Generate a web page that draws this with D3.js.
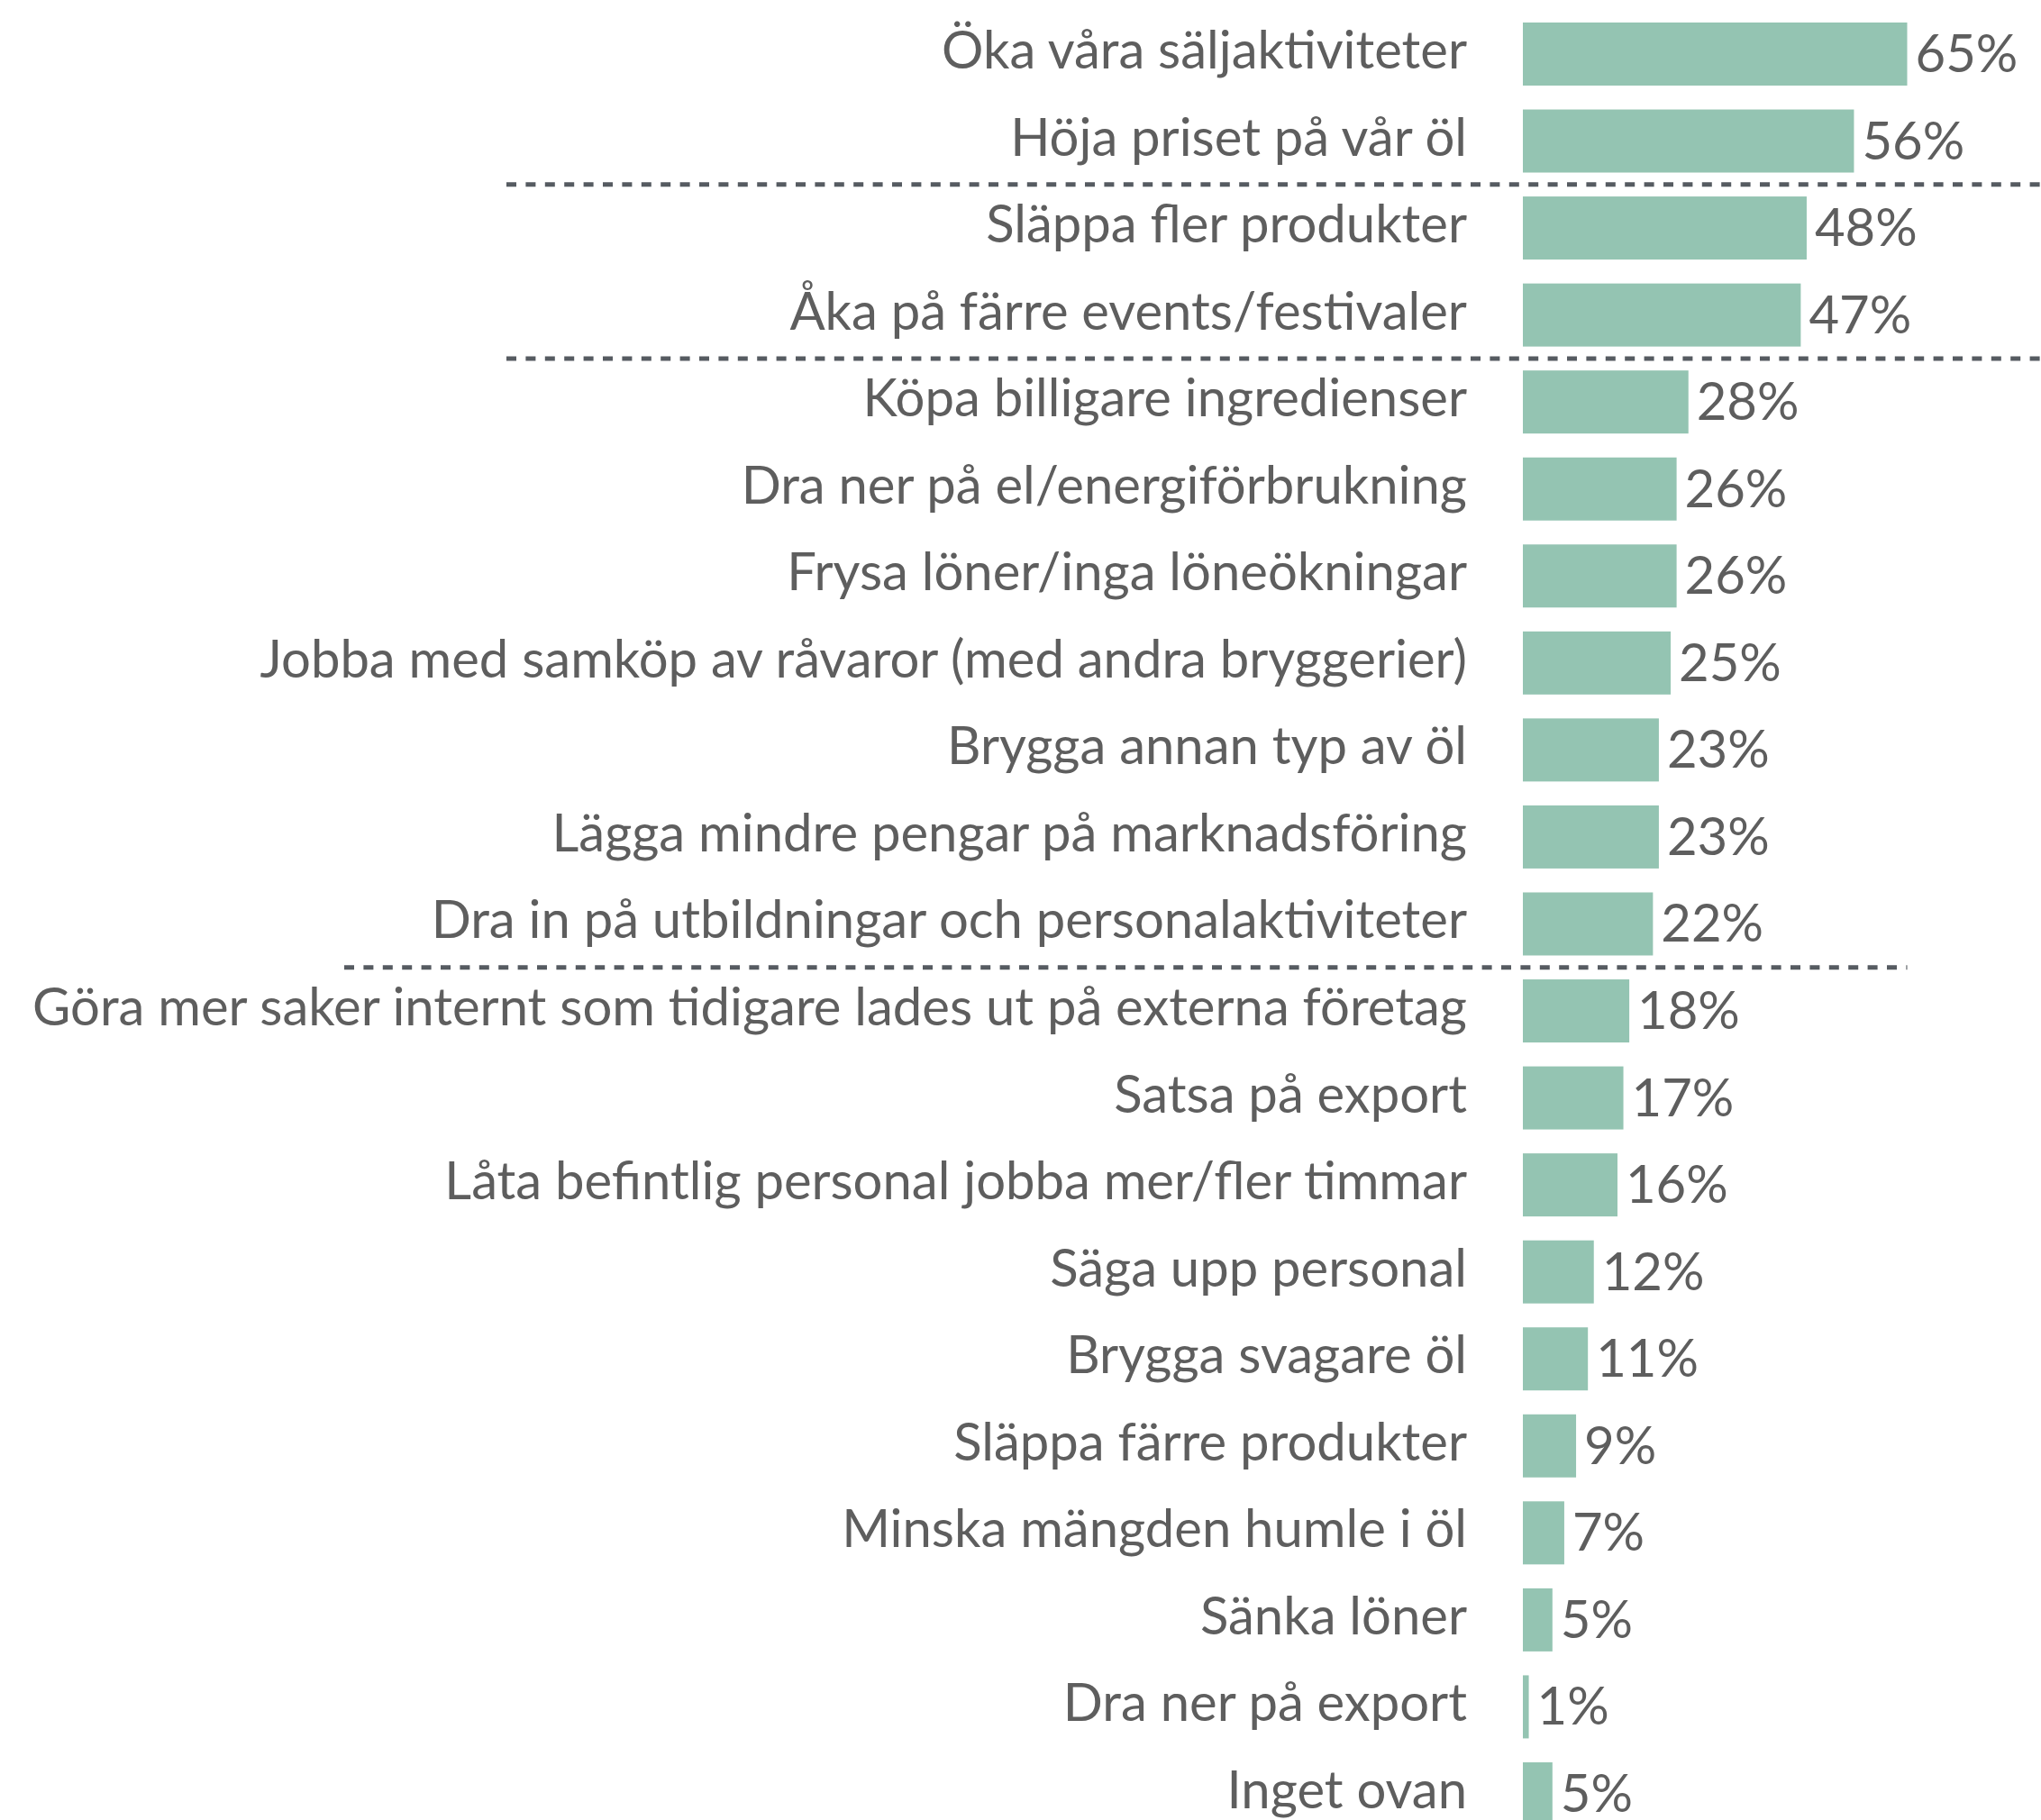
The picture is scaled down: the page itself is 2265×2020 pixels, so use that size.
<!DOCTYPE html>
<html>
<head>
<meta charset="utf-8">
<script src="https://cdn.jsdelivr.net/npm/d3@7"></script>
<style>
  body { margin: 0; background: #fff; }
  svg text { font-family: Lato, "Open Sans", sans-serif; fill: #5e5e5e; }
</style>
</head>
<body>
<div id="chart"></div>
<script>
var categories = [
  "Öka våra säljaktiviteter",
  "Höja priset på vår öl",
  "Släppa fler produkter",
  "Åka på färre events/festivaler",
  "Köpa billigare ingredienser",
  "Dra ner på el/energiförbrukning",
  "Frysa löner/inga löneökningar",
  "Jobba med samköp av råvaror (med andra bryggerier)",
  "Brygga annan typ av öl",
  "Lägga mindre pengar på marknadsföring",
  "Dra in på utbildningar och personalaktiviteter",
  "Göra mer saker internt som tidigare lades ut på externa företag",
  "Satsa på export",
  "Låta befintlig personal jobba mer/fler timmar",
  "Säga upp personal",
  "Brygga svagare öl",
  "Släppa färre produkter",
  "Minska mängden humle i öl",
  "Sänka löner",
  "Dra ner på export",
  "Inget ovan"
];
var values = [65, 56, 48, 47, 28, 26, 26, 25, 23, 23, 22, 18, 17, 16, 12, 11, 9, 7, 5, 1, 5];
// dashed dividers go below these rows
var dividerAfter = [
  "Höja priset på vår öl",
  "Åka på färre events/festivaler",
  "Dra in på utbildningar och personalaktiviteter"
];

var width = 2265, height = 2020;
var barLeft = 1690;

var svg = d3.select("#chart").append("svg")
  .attr("width", width).attr("height", height);

var xScale = d3.scaleLinear()
  .domain([0, 65])
  .range([barLeft, 2116.5]);

var yScale = d3.scaleBand()
  .domain(categories)
  .range([11.7, 11.7 + 96.55 * categories.length])
  .paddingInner(0.275)
  .paddingOuter(0.1375);

var data = categories.map(function (c, i) {
  return { cat: c, val: values[i] };
});

svg.selectAll("rect.bar").data(data).enter()
  .append("rect").attr("class", "bar")
  .attr("x", xScale(0))
  .attr("y", function (d) { return yScale(d.cat); })
  .attr("width", function (d) { return xScale(d.val) - xScale(0); })
  .attr("height", yScale.bandwidth())
  .attr("fill", "#94c4b2");

svg.selectAll("text.cat").data(data).enter()
  .append("text").attr("class", "cat")
  .attr("x", 1628)
  .attr("y", function (d) { return yScale(d.cat) + yScale.bandwidth() / 2 + 16; })
  .attr("text-anchor", "end")
  .style("font-size", "58px")
  .text(function (d) { return d.cat; });

svg.selectAll("text.val").data(data).enter()
  .append("text").attr("class", "val")
  .attr("x", function (d) { return xScale(d.val) + 9; })
  .attr("y", function (d) { return yScale(d.cat) + yScale.bandwidth() / 2 + 20; })
  .style("font-size", "58px")
  .text(function (d) { return d.val + "%"; });

// dividers: first two run to the page edge, last one stops at the longest bar
var gap = yScale.step() - yScale.bandwidth();
var dividerExtent = [[562, width], [562, width], [382, xScale(65)]];
dividerAfter.forEach(function (c, i) {
  var y = yScale(c) + yScale.bandwidth() + gap / 2;
  svg.append("line")
    .attr("x1", dividerExtent[i][0]).attr("x2", dividerExtent[i][1])
    .attr("y1", y).attr("y2", y)
    .attr("stroke", "#565b61")
    .attr("stroke-width", 5)
    .attr("stroke-dasharray", "11 10.4");
});
</script>
</body>
</html>
